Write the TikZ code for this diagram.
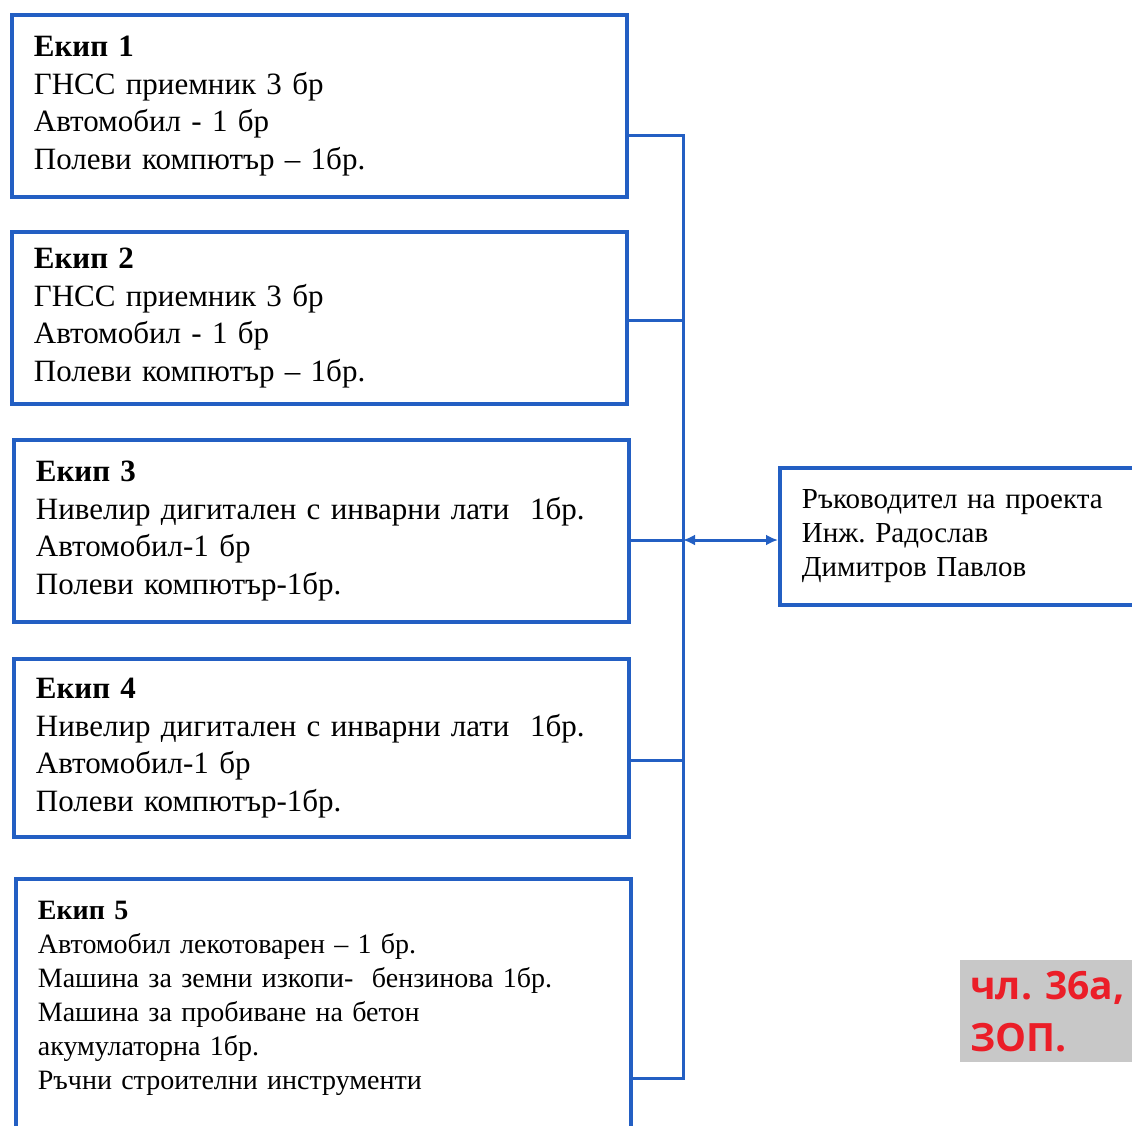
\documentclass[tikz,border=0pt]{standalone}
\usepackage{fontspec}
\setmainfont{Liberation Serif}
\newfontfamily\notefont{Open Sans}
\usetikzlibrary{arrows.meta}
\frenchspacing

\definecolor{boxblue}{RGB}{35,95,195}
\definecolor{notered}{RGB}{235,30,40}
\definecolor{notegray}{RGB}{200,200,200}

\tikzset{
  team/.style={draw=boxblue, line width=1.9pt, anchor=north west,
    minimum width=307.5pt, text width=285.5pt, inner xsep=11pt,
    align=left, font=\fontsize{15.5}{18.75}\selectfont},
  lead/.style={draw=boxblue, line width=1.9pt, anchor=north west,
    minimum width=200pt, minimum height=68.5pt, text width=178pt,
    inner xsep=11pt, align=left, font=\fontsize{14.5}{17}\selectfont},
  link/.style={draw=boxblue, line width=1.5pt},
}

\begin{document}
\begin{tikzpicture}[x=0.5pt,y=-0.5pt]
    \useasboundingbox (0,0) rectangle (1132,1126);

    % The teams
    \node[team, minimum height=91pt] (b1) at (10,13)
      {\textbf{Екип 1}\\ ГНСС приемник 3 бр\\ Автомобил - 1 бр\\ Полеви компютър – 1бр.};
    \node[team, minimum height=86pt] (b2) at (10,230)
      {\textbf{Екип 2}\\ ГНСС приемник 3 бр\\ Автомобил - 1 бр\\ Полеви компютър – 1бр.};
    \node[team, minimum height=91pt] (b3) at (12,438)
      {\textbf{Екип 3}\\ Нивелир дигитален с инварни лати\ \ 1бр.\\ Автомобил-1 бр\\ Полеви компютър-1бр.};
    \node[team, minimum height=89pt] (b4) at (12,657)
      {\textbf{Екип 4}\\ Нивелир дигитален с инварни лати\ \ 1бр.\\ Автомобил-1 бр\\ Полеви компютър-1бр.};
    \node[team, minimum height=128pt, font=\fontsize{14}{17}\selectfont] (b5) at (14,877)
      {\textbf{Екип 5}\\ Автомобил лекотоварен – 1 бр.\\ Машина за земни изкопи-\ \ бензинова 1бр.\\
       Машина за пробиване на бетон\\ акумулаторна 1бр.\\ Ръчни строителни инструменти\\[-5pt]\mbox{}};

    % The project leader
    \node[lead] (lead) at (778,466)
      {Ръководител на проекта\\ Инж. Радослав\\ Димитров Павлов};

    % Points on the trunk line
    \coordinate (t1) at (683,135);
    \coordinate (t2) at (683,320);
    \coordinate (t3) at (683,540);
    \coordinate (t4) at (683,760);
    \coordinate (t5) at (683,1078);

    % Connectors
    \draw[link] (t1 -| b1.east) -- (t1) -- (t5) -- (t5 -| b5.east);
    \draw[link] (t2 -| b2.east) -- (t2);
    \draw[link] (t3 -| b3.east) -- (t3);
    \draw[link] (t4 -| b4.east) -- (t4);
    \draw[link, {Latex[length=6pt,width=5.5pt]}-{Latex[length=6pt,width=5.5pt]}]
      (t3) -- (t3 -| lead.west);

    % The stamp
    \node[fill=notegray, anchor=north west, minimum width=110pt, minimum height=51pt,
      text width=100pt, inner xsep=2.5pt, inner ysep=1pt, align=left,
      text=notered, font=\notefont\bfseries\fontsize{19.5}{26}\selectfont] (note) at (960,960)
      {чл. 36а,\\ ЗОП.};
\end{tikzpicture}
\end{document}
